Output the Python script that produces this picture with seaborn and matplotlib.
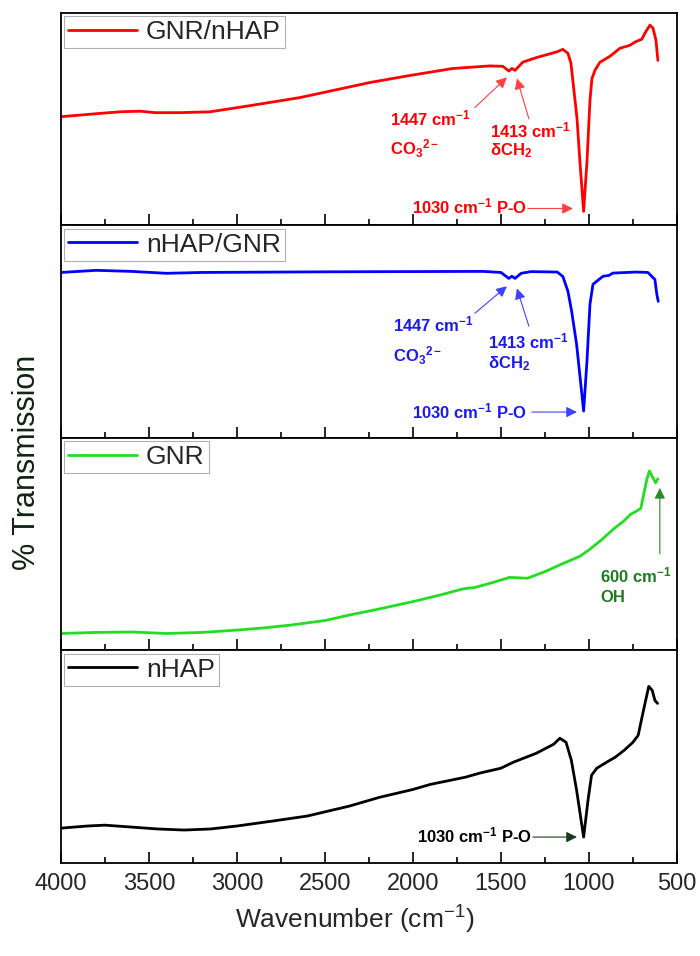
import matplotlib
matplotlib.use("Agg")
import matplotlib.pyplot as plt
from matplotlib.ticker import MultipleLocator
import seaborn as sns
import pandas as pd

# ---------------- data ----------------
labels = ["GNR/nHAP", "nHAP/GNR", "GNR", "nHAP"]
colors = ["#ff0000", "#0000ff", "#22dd22", "#000000"]

wn_red = [4000, 3800, 3665, 3550, 3466, 3324, 3153, 2926, 2642, 2244, 2017, 1773, 1563, 1489,
          1455, 1438, 1420, 1375, 1295, 1182, 1148, 1119, 1102, 1085, 1068, 1051, 1030, 1011,
          994, 983, 966, 938, 881, 852, 824, 767, 739, 699, 682, 653, 636, 619, 608]
t_red = [51.2, 52.6, 53.5, 53.8, 53.1, 53.1, 53.5, 56.4, 60.2, 67.3, 70.6, 73.9, 75.1, 74.9,
         72.7, 73.9, 73.0, 76.9, 79.1, 81.7, 82.9, 81.0, 76.3, 63.5, 50.7, 30.0, 6.6, 30.0,
         58.8, 69.0, 73.0, 76.8, 79.6, 81.5, 83.4, 84.8, 86.3, 87.7, 90.5, 94.3, 92.9, 87.2, 77.7]

wn_blue = [4000, 3800, 3600, 3400, 3200, 2500, 1600, 1500, 1455, 1438, 1420, 1385, 1330, 1180,
           1148, 1119, 1098, 1070, 1030, 1011, 994, 977, 949, 920, 886, 864, 730, 665, 625, 614, 606]
t_blue = [77.9, 78.9, 78.4, 77.5, 77.9, 78.2, 78.4, 77.9, 75.1, 76.1, 75.1, 77.5, 78.3, 78.1,
          76.0, 69.0, 59.6, 44.1, 12.7, 36.2, 62.9, 72.3, 74.2, 76.1, 76.5, 77.6, 78.1, 77.9,
          74.6, 67.6, 64.3]

wn_green = [4000, 3800, 3600, 3400, 3200, 3000, 2850, 2700, 2500, 2360, 2200, 2000, 1850, 1720,
            1690, 1650, 1550, 1450, 1400, 1350, 1250, 1150, 1050, 1000, 925, 858, 801, 763,
            727, 705, 688, 670, 656, 636, 621, 608]
t_green = [8.0, 8.5, 8.7, 8.0, 8.5, 9.6, 10.6, 11.9, 14.1, 16.7, 19.4, 23.0, 26.0, 28.9,
           29.3, 29.6, 31.9, 34.4, 34.2, 34.0, 37.1, 40.8, 44.4, 47.3, 52.3, 57.3, 61.0, 64.1,
           65.7, 66.9, 73.7, 80.8, 84.5, 81.2, 78.9, 80.8]

wn_black = [4000, 3850, 3750, 3600, 3450, 3300, 3150, 3000, 2800, 2600, 2360, 2190, 2000, 1900,
            1700, 1620, 1500, 1430, 1300, 1200, 1165, 1130, 1100, 1070, 1030, 1005, 985, 955,
            900, 850, 800, 750, 720, 690, 660, 640, 625, 610]
t_black = [16.4, 17.4, 17.8, 16.9, 16.0, 15.5, 16.0, 17.4, 19.7, 22.1, 26.8, 30.9, 34.6, 37.0,
           40.4, 42.3, 44.6, 47.4, 51.6, 55.9, 58.7, 56.8, 48.4, 34.3, 12.2, 29.6, 41.3, 44.6,
           47.4, 49.8, 53.0, 56.8, 60.1, 71.8, 83.1, 81.2, 76.5, 75.1]

series = [(wn_red, t_red), (wn_blue, t_blue), (wn_green, t_green), (wn_black, t_black)]
xticks = [4000, 3500, 3000, 2500, 2000, 1500, 1000, 500]

# ---------------- style ----------------
sns.set_theme(style="white")
plt.rcParams["font.family"] = ["Liberation Sans", "DejaVu Sans"]
plt.rcParams["mathtext.fontset"] = "custom"
plt.rcParams["mathtext.rm"] = "Liberation Sans"
plt.rcParams["mathtext.bf"] = "Liberation Sans:bold"
plt.rcParams["mathtext.it"] = "Liberation Sans:italic"
plt.rcParams["mathtext.sf"] = "Liberation Sans"

fig, axes = plt.subplots(4, 1, sharex=True, figsize=(7, 9.56), dpi=100)
fig.subplots_adjust(left=0.0871, right=0.967, top=0.9864, bottom=0.0973, hspace=0)

for ax, (wn, tr), lab, col in zip(axes, series, labels, colors):
    df = pd.DataFrame({"wn": wn, "t": tr})
    sns.lineplot(data=df, x="wn", y="t", ax=ax, color=col, lw=2.0, label=lab, sort=False)
    ax.set_xlim(4000, 500)
    ax.set_ylim(0, 100)
    ax.set_yticks([])
    ax.set_ylabel("")
    ax.set_xlabel("")
    ax.xaxis.set_major_locator(MultipleLocator(500))
    ax.xaxis.set_minor_locator(MultipleLocator(250))
    ax.tick_params(axis="x", which="major", direction="in", length=8, width=1.2,
                   bottom=True, top=False, color="black")
    ax.tick_params(axis="x", which="minor", direction="in", length=4, width=1.2,
                   bottom=True, top=False, color="black")
    for s in ax.spines.values():
        s.set_color("black")
        s.set_linewidth(1.3)
    leg = ax.legend(loc="upper left", fontsize=19, frameon=True, fancybox=False,
                    edgecolor="#b0b0b0", borderaxespad=0.12, handlelength=2.6,
                    handletextpad=0.35, borderpad=0.15, framealpha=1)
    leg.get_frame().set_linewidth(0.8)
    for h in leg.legend_handles:
        h.set_linewidth(2.0)

bottom_ax = axes[-1]
bottom_ax.set_xticks(xticks)
bottom_ax.set_xticklabels([str(v) for v in xticks], fontsize=17)
bottom_ax.tick_params(axis="x", which="major", pad=7)

fig.text(0.507, 0.0377, r"Wavenumber (cm$^{-1}$)", ha="center", va="center", fontsize=19)
fig.text(0.039, 1 - 462 / 956, "% Transmission", rotation=90, ha="center", va="center",
         fontsize=22, color="#102410")

def arrow(ax, xy, xytext, col):
    ax.annotate("", xy=xy, xytext=xytext,
                arrowprops=dict(arrowstyle="-|>", color=col, lw=0.8, mutation_scale=16,
                                shrinkA=0, shrinkB=0))

def txt(ax, x, y, s, col):
    ax.text(x, y, s, color=col, fontsize=12, fontweight="bold", ha="left", va="center")

# red panel
a, c = axes[0], "#ff0000"
txt(a, 2131, 50.2, r"1447 cm$^{\mathbf{-1}}$", c)
txt(a, 2131, 36.0, r"CO$_{\mathbf{3}}{}^{\mathbf{2-}}$", c)
txt(a, 1562, 44.5, r"1413 cm$^{\mathbf{-1}}$", c)
txt(a, 1562, 35.0, r"δCH$_{\mathbf{2}}$", c)
txt(a, 2006, 9.0, r"1030 cm$^{\mathbf{-1}}$ P-O", c)
arrow(a, (1466, 69.7), (1648, 55.5), "#ff4040")
arrow(a, (1409, 69.2), (1341, 50.2), "#ff4040")
arrow(a, (1091, 8.0), (1347, 8.0), "#ff4040")

# blue panel
a, c = axes[1], "#1a1aee"
txt(a, 2114, 53.5, r"1447 cm$^{\mathbf{-1}}$", c)
txt(a, 2114, 38.5, r"CO$_{\mathbf{3}}{}^{\mathbf{2-}}$", c)
txt(a, 1574, 45.5, r"1413 cm$^{\mathbf{-1}}$", c)
txt(a, 1574, 35.2, r"δCH$_{\mathbf{2}}$", c)
txt(a, 2006, 12.5, r"1030 cm$^{\mathbf{-1}}$ P-O", c)
arrow(a, (1466, 71.4), (1648, 58.7), "#4040ff")
arrow(a, (1409, 70.4), (1341, 52.6), "#4040ff")
arrow(a, (1068, 12.2), (1324, 12.2), "#4040ff")

# green panel
a, c = axes[2], "#1e7b1e"
txt(a, 937, 35.2, r"600 cm$^{\mathbf{-1}}$", c)
txt(a, 937, 24.9, "OH", c)
arrow(a, (597, 76.5), (597, 45.5), "#2a8a2a")

# black panel
a, c = axes[3], "#000000"
txt(a, 1977, 13.0, r"1030 cm$^{\mathbf{-1}}$ P-O", c)
arrow(a, (1068, 12.2), (1318, 12.2), "#1a3a1a")

fig.savefig("out.png", dpi=100)
